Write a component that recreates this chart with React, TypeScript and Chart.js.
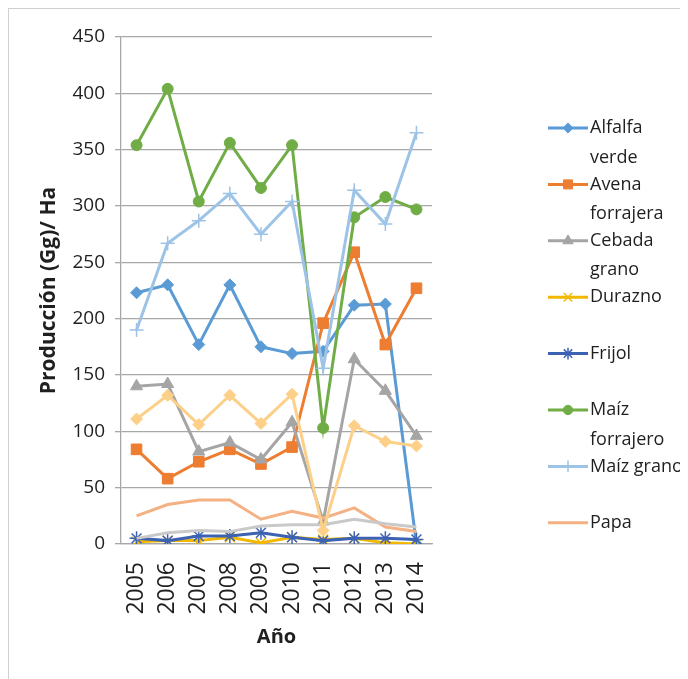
import React, { useEffect, useRef } from "react";
import { Chart, registerables } from "chart.js";
import { drawPoint } from "chart.js/helpers";

Chart.register(...registerables);

const years = ["2005", "2006", "2007", "2008", "2009", "2010", "2011", "2012", "2013", "2014"];
const yTicks = [0, 50, 100, 150, 200, 250, 300, 350, 400, 450];

const alfalfaVerde = [223, 230, 177, 230, 175, 169, 171, 212, 213, 0];
const avenaForrajera = [84, 58, 73, 84, 71, 86, 196, 259, 177, 227];
const cebadaGrano = [140, 142, 82, 90, 75, 108, 20, 164, 136, 96];
const durazno = [2, 3, 3, 6, 1, 6, 4, 5, 1, 0];
const frijol = [5, 3, 7, 7, 10, 6, 3, 5, 5, 4];
const maizForrajero = [354, 404, 304, 356, 316, 354, 103, 290, 308, 297];
const maizGrano = [190, 267, 287, 311, 275, 304, 156, 314, 284, 365];
const papa = [25, 35, 39, 39, 22, 29, 23, 32, 15, 11];
const serie9 = [5, 10, 12, 11, 16, 17, 17, 22, 18, 15];
const serie10 = [111, 132, 106, 132, 107, 133, 12, 105, 91, 87];

const legendLines: (string[] | null)[] = [
  ["Alfalfa", "verde"],
  ["Avena", "forrajera"],
  ["Cebada", "grano"],
  ["Durazno"],
  ["Frijol"],
  ["Maíz", "forrajero"],
  ["Maíz grano"],
  ["Papa"],
  null,
  null,
];

const FONT = '"Open Sans", "DejaVu Sans", sans-serif';
const TEXT = "#1f1f1f";
const GRID = "#a8a8a8";

const legendPlugin = {
  id: "sideLegend",
  afterDraw(chart: any) {
    const ctx = chart.ctx as CanvasRenderingContext2D;
    ctx.save();
    let row = 0;
    chart.data.datasets.forEach((ds: any, i: number) => {
      const lines = legendLines[i];
      if (!lines) return;
      const y = 119 + row * 56.4;
      row++;
      ctx.strokeStyle = ds.borderColor;
      ctx.lineWidth = 3;
      ctx.lineCap = "butt";
      ctx.beginPath();
      ctx.moveTo(539, y);
      ctx.lineTo(579, y);
      ctx.stroke();
      if (ds.pointRadius > 0) {
        ctx.fillStyle = ds.pointBackgroundColor;
        ctx.strokeStyle = ds.pointBorderColor;
        ctx.lineWidth = ds.pointBorderWidth;
        drawPoint(ctx, { pointStyle: ds.pointStyle, rotation: 0, radius: ds.pointRadius * 0.85, borderWidth: ds.pointBorderWidth }, 559, y);
      }
      ctx.fillStyle = TEXT;
      ctx.font = `18px ${FONT}`;
      ctx.textBaseline = "middle";
      ctx.textAlign = "left";
      lines.forEach((t, j) => ctx.fillText(t, 581, y + j * 29.5));
    });
    ctx.restore();
  },
};

function mk(label: string, data: number[], color: string, style: any, radius: number, bw: number, fill = true) {
  return {
    label,
    data,
    borderColor: color,
    backgroundColor: color,
    borderWidth: 3,
    pointStyle: style,
    pointRadius: radius,
    pointHoverRadius: radius,
    pointBackgroundColor: fill ? color : "transparent",
    pointBorderColor: color,
    pointBorderWidth: bw,
    tension: 0,
    fill: false,
  };
}

export default function App() {
  const ref = useRef<HTMLCanvasElement | null>(null);

  useEffect(() => {
    if (!ref.current) return;
    const datasets: any[] = [
      mk("Alfalfa verde", alfalfaVerde, "#5b9bd5", "rectRot", 6, 1),
      mk("Avena forrajera", avenaForrajera, "#ed7d31", "rect", 7.5, 1),
      mk("Cebada grano", cebadaGrano, "#a5a5a5", "triangle", 7, 1),
      mk("Durazno", durazno, "#f2b800", "crossRot", 7, 1.5, false),
      mk("Frijol", frijol, "#3c62b4", "star", 7, 1.5, false),
      mk("Maíz forrajero", maizForrajero, "#70ad47", "circle", 5.5, 1),
      mk("Maíz grano", maizGrano, "#9dc3e6", "cross", 7, 1.5, false),
      mk("Papa", papa, "#f4b183", "line", 0, 0),
      mk("Serie 9", serie9, "#c9c9c9", "line", 0, 0),
      mk("Serie 10", serie10, "#fdd089", "rectRot", 6, 1),
    ];
    datasets.forEach((d, i) => (d.order = -i));

    const chart = new Chart(ref.current, {
      type: "line",
      data: { labels: years, datasets },
      options: {
        animation: false,
        responsive: false,
        devicePixelRatio: 1,
        layout: { padding: { left: 23, top: 28, right: 256, bottom: 26 } },
        plugins: {
          legend: { display: false },
          tooltip: { enabled: false },
        },
        scales: {
          x: {
            offset: true,
            grid: { display: false, drawTicks: false },
            border: { display: true, color: GRID, width: 1.3 },
            ticks: {
              minRotation: 90,
              maxRotation: 90,
              padding: 18,
              color: TEXT,
              font: { family: FONT, size: 23 },
            },
            title: {
              display: true,
              text: "Año",
              color: TEXT,
              font: { family: FONT, size: 20, weight: "bold" },
            },
            afterFit(scale: any) {
              scale.height = 109;
            },
          },
          y: {
            min: 0,
            max: 450,
            afterBuildTicks(scale: any) {
              scale.ticks = yTicks.map((v) => ({ value: v }));
            },
            grid: { color: GRID, lineWidth: 1.3, tickLength: 6 },
            border: { display: true, color: GRID, width: 1.3 },
            ticks: {
              padding: 10,
              color: TEXT,
              font: { family: FONT, size: 19 },
            },
            title: {
              display: true,
              text: "Producción (Gg)/ Ha",
              color: TEXT,
              font: { family: FONT, size: 21, weight: "bold" },
            },
            afterFit(scale: any) {
              scale.width = 112 - 23;
            },
          },
        },
      },
      plugins: [legendPlugin],
    });
    return () => chart.destroy();
  }, []);

  return (
    <div
      style={{
        width: 680,
        height: 671,
        borderLeft: "1px solid #d0d0d0",
        borderTop: "1px solid #d0d0d0",
        background: "#fff",
        overflow: "hidden",
      }}
    >
      <canvas ref={ref} width={679} height={670} style={{ display: "block", width: 679, height: 670 }} />
    </div>
  );
}
